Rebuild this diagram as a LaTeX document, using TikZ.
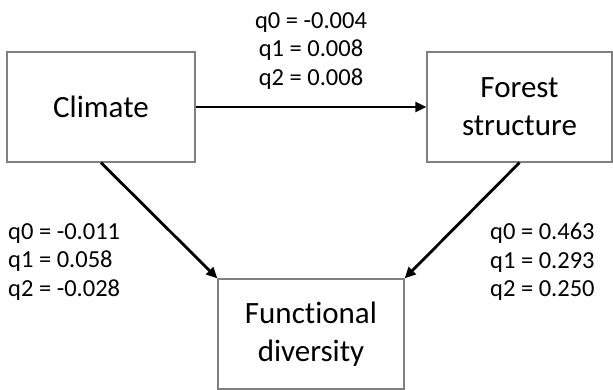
\documentclass[tikz,border=0pt]{standalone}
\usepackage{fontspec}
\setmainfont{Carlito}[Ligatures=NoCommon]
\usetikzlibrary{arrows.meta}
\begin{document}
\begin{tikzpicture}[x=1pt,y=-1pt,
  box/.style={draw=boxgray, line width=1.3pt, minimum width=#1, minimum height=110pt, inner sep=0pt, align=center,
    font=\fontsize{31}{38}\selectfont},
  box/.default=188pt,
  lbl/.style={inner sep=0pt, font=\fontsize{24.5}{28.5}\selectfont},
  arr/.style={line width=2.8pt, -{Triangle[length=11pt,width=10pt]}}]
\definecolor{boxgray}{RGB}{128,128,128}
\useasboundingbox (0,0) rectangle (613,390);
\node[box=188pt] (clim) at (101,107) {Climate};
\node[box=185pt] (forest) at (519.5,107) {Forest\\structure};
\node[box=186pt] (func) at (311,334) {Functional\\diversity};
\draw[arr] (clim.east) -- (forest.west);
\draw[arr] (clim.south) -- (func.north west);
\draw[arr] (forest.south) -- (func.north east);
\node[lbl, align=center] (ltop) at (311,51) {q0 = -0.004\\q1 = 0.008\\q2 = 0.008};
\node[lbl, align=left, anchor=west] (lleft) at (8,262) {q0 = -0.011\\q1 = 0.058\\q2 = -0.028};
\node[lbl, align=left, anchor=west] (lright) at (490,262) {q0 = 0.463\\q1 = 0.293\\q2 = 0.250};
\end{tikzpicture}
\end{document}
